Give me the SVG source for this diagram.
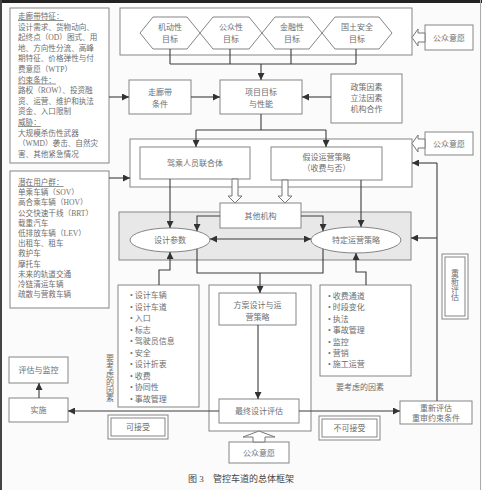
<svg xmlns="http://www.w3.org/2000/svg" width="482" height="490" viewBox="0 0 482 490">
<defs>
<style>
.bg{fill:#fbfbfb}
.b{fill:#fff;stroke:#858585;stroke-width:1}
.g{fill:#e8e8e8;stroke:#858585;stroke-width:1}
.t{font-family:"Liberation Serif","Noto Sans CJK SC",serif;font-size:8px;fill:#6e6e6e}
.s{font-size:7.6px}
.c{text-anchor:middle}
.u{text-decoration:underline}
.ln{fill:none;stroke:#3c3c3c;stroke-width:1.1}
.ho{fill:#fff;stroke:#777;stroke-width:1}
.cap{font-family:"Liberation Serif","Noto Sans CJK SC",serif;font-size:9px;fill:#444}
</style>
<marker id="a" viewBox="0 0 10 10" refX="10" refY="5" markerWidth="7" markerHeight="7" markerUnits="userSpaceOnUse" orient="auto-start-reverse">
<path d="M0,0 L10,5 L0,10 z" fill="#333"/>
</marker>
</defs>
<rect class="bg" x="0" y="0" width="482" height="490"/>
<g id="frame">
<line x1="0" y1="1.5" x2="482" y2="1.5" stroke="#222" stroke-width="3"/>
<line x1="1" y1="0" x2="1" y2="490" stroke="#444" stroke-width="2"/>
<line x1="480.5" y1="0" x2="480.5" y2="490" stroke="#aaa" stroke-width="1"/>
</g>

<g id="corridor-features">
<rect class="b" x="10" y="8" width="99" height="155"/>
<text class="t s" x="18" y="19"><tspan class="u">走廊带特征：</tspan></text>
<text class="t s" x="18" y="29.6">设计需求、货物动向、</text>
<text class="t s" x="18" y="40.2">起终点（OD）图式、用</text>
<text class="t s" x="18" y="50.8">地、方向性分流、高峰</text>
<text class="t s" x="18" y="61.4">期特征、价格弹性与付</text>
<text class="t s" x="18" y="72">费意愿（WTP）</text>
<text class="t s" x="18" y="82.6"><tspan class="u">约束条件：</tspan></text>
<text class="t s" x="18" y="93.2">路权（ROW）、投资融</text>
<text class="t s" x="18" y="103.8">资、运营、维护和执法</text>
<text class="t s" x="18" y="114.4">资金、入口限制</text>
<text class="t s" x="18" y="125"><tspan class="u">威胁：</tspan></text>
<text class="t s" x="18" y="135.6">大规模杀伤性武器</text>
<text class="t s" x="18" y="146.2">（WMD）袭击、自然灾</text>
<text class="t s" x="18" y="156.8">害、其他紧急情况</text>
</g>

<g id="potential-users">
<rect class="b" x="10" y="171" width="99" height="137"/>
<text class="t s" x="18" y="185"><tspan class="u">潜在用户群：</tspan></text>
<text class="t s" x="18" y="195.2">单乘车辆（SOV）</text>
<text class="t s" x="18" y="205.4">高合乘车辆（HOV）</text>
<text class="t s" x="18" y="215.6">公交快速干线（BRT）</text>
<text class="t s" x="18" y="225.8">载重汽车</text>
<text class="t s" x="18" y="236">低排放车辆（LEV）</text>
<text class="t s" x="18" y="246.2">出租车、租车</text>
<text class="t s" x="18" y="256.4">救护车</text>
<text class="t s" x="18" y="266.6">摩托车</text>
<text class="t s" x="18" y="276.8">未来的轨道交通</text>
<text class="t s" x="18" y="287">冷链清运车辆</text>
<text class="t s" x="18" y="297.2">疏散与营救车辆</text>
</g>

<g id="goals">
<rect class="b" x="120" y="8" width="292" height="47"/>
<polygon class="b" points="140,33 153,17 187,17 200,33 187,49 153,49"/>
<polygon class="b" points="200,33 213,17 249,17 262,33 249,49 213,49"/>
<polygon class="b" points="262,33 275,17 309,17 322,33 309,49 275,49"/>
<polygon class="b" points="322,33 335,17 379,17 392,33 379,49 335,49"/>
<text class="t c" x="170" y="30">机动性</text><text class="t c" x="170" y="42">目标</text>
<text class="t c" x="231" y="30">公众性</text><text class="t c" x="231" y="42">目标</text>
<text class="t c" x="292" y="30">金融性</text><text class="t c" x="292" y="42">目标</text>
<text class="t c" x="357" y="30">国土安全</text><text class="t c" x="357" y="42">目标</text>
</g>

<g id="public-opinion-1">
<rect class="b" x="425" y="25" width="48" height="25"/>
<text class="t c" x="449" y="40.5">公众意愿</text>
<polygon class="ho" points="425,33 418,33 418,29 412,37.5 418,46 418,42 425,42"/>
</g>

<g id="corridor-conditions">
<rect class="b" x="129" y="80" width="62" height="34"/>
<text class="t c" x="160" y="95">走廊带</text>
<text class="t c" x="160" y="107">条件</text>
</g>

<g id="project-goals">
<rect class="b" x="220" y="80" width="82" height="34"/>
<text class="t c" x="261" y="95">项目目标</text>
<text class="t c" x="261" y="107">与性能</text>
</g>

<g id="policy">
<rect class="b" x="331" y="74" width="71" height="49"/>
<text class="t c" x="366.5" y="90">政策因素</text>
<text class="t c" x="366.5" y="101">立法因素</text>
<text class="t c" x="366.5" y="112">机构合作</text>
</g>

<g id="middle-frame">
<rect class="b" x="130" y="139" width="282" height="48"/>
</g>

<g id="driver-consortium">
<rect class="b" x="140" y="147" width="110" height="32"/>
<text class="t c" x="195" y="166">驾乘人员联合体</text>
</g>

<g id="assumed-operation">
<rect class="b" x="271" y="147" width="111" height="33"/>
<text class="t c" x="326.5" y="160">假设运营策略</text>
<text class="t c" x="326.5" y="171">（收费与否）</text>
</g>

<g id="public-opinion-2">
<rect class="b" x="425" y="132" width="48" height="23"/>
<text class="t c" x="449" y="147">公众意愿</text>
<polygon class="ho" points="425,139 418,139 418,135 412,143.5 418,152 418,148 425,148"/>
</g>

<g id="gray-band">
<rect class="g" x="119" y="212" width="292" height="48"/>
</g>

<g id="hollow-arrows">
<polygon class="ho" points="232,179 232,196 228,196 235,203 242,196 238,196 238,179"/>
<polygon class="ho" points="282,180 282,196 278,196 285,203 292,196 288,196 288,180"/>
</g>

<g id="other-agencies">
<rect class="b" x="220" y="203" width="81" height="25"/>
<text class="t c" x="260.5" y="219">其他机构</text>
</g>

<g id="design-params">
<ellipse class="b" cx="170" cy="240" rx="40" ry="12"/>
<text class="t c" x="170" y="243">设计参数</text>
</g>

<g id="specific-operation">
<ellipse class="b" cx="356" cy="240" rx="45" ry="13"/>
<text class="t c" x="356" y="243">特定运营策略</text>
</g>

<g id="reassess-vertical">
<rect class="b" x="442" y="254" width="26" height="65"/>
<rect fill="none" stroke="#858585" x="445" y="257" width="20" height="59"/>
<text class="t c" x="455" y="276" font-size="7.5">重<tspan x="455" dy="8">新</tspan><tspan x="455" dy="8">评</tspan><tspan x="455" dy="8">估</tspan></text>
</g>

<g id="design-factors">
<rect class="b" x="118" y="285" width="81" height="122"/>
<text class="t" x="130" y="298">• 设计车辆</text>
<text class="t" x="130" y="309.5">• 设计车道</text>
<text class="t" x="130" y="321">• 入口</text>
<text class="t" x="130" y="332.5">• 标志</text>
<text class="t" x="130" y="344">• 驾驶员信息</text>
<text class="t" x="130" y="355.5">• 安全</text>
<text class="t" x="130" y="367">• 设计折衷</text>
<text class="t" x="130" y="378.5">• 收费</text>
<text class="t" x="130" y="390">• 协同性</text>
<text class="t" x="130" y="401.5">• 事故管理</text>
<text class="t c" x="110" y="361" font-size="7.5">要<tspan x="110" dy="8">考</tspan><tspan x="110" dy="8">虑</tspan><tspan x="110" dy="8">的</tspan><tspan x="110" dy="8">因</tspan><tspan x="110" dy="8">素</tspan></text>
</g>

<g id="eval-frame">
<rect class="b" x="209" y="285" width="102" height="146"/>
</g>

<g id="scheme-design">
<rect class="b" x="219" y="293" width="77" height="32"/>
<text class="t c" x="257.5" y="308">方案设计与运</text>
<text class="t c" x="257.5" y="320">营策略</text>
</g>

<g id="final-eval">
<rect class="b" x="219" y="399" width="80" height="24"/>
<text class="t c" x="259" y="414">最终设计评估</text>
</g>

<g id="public-opinion-3">
<rect class="b" x="229" y="442" width="60" height="21"/>
<text class="t c" x="259" y="455.5">公众意愿</text>
<polygon class="ho" points="253,442 253,437 243,437 259,431 275,437 265,437 265,442"/>
</g>

<g id="operation-factors">
<rect class="b" x="320" y="285" width="91" height="91"/>
<text class="t" x="328" y="299">• 收费通道</text>
<text class="t" x="328" y="310.4">• 时段变化</text>
<text class="t" x="328" y="321.8">• 执法</text>
<text class="t" x="328" y="333.2">• 事故管理</text>
<text class="t" x="328" y="344.6">• 监控</text>
<text class="t" x="328" y="356">• 营销</text>
<text class="t" x="328" y="367.4">• 施工运营</text>
<text class="t c" x="360" y="390">要考虑的因素</text>
</g>

<g id="acceptable">
<rect class="b" x="108" y="415" width="60" height="24"/>
<rect fill="none" stroke="#858585" x="111" y="418" width="54" height="18"/>
<text class="t c" x="138" y="430">可接受</text>
</g>

<g id="unacceptable">
<rect class="b" x="319" y="416" width="61" height="24"/>
<rect fill="none" stroke="#858585" x="322" y="419" width="55" height="18"/>
<text class="t c" x="349.5" y="431">不可接受</text>
</g>

<g id="eval-monitor">
<rect class="b" x="9" y="357" width="59" height="26"/>
<text class="t c" x="38.5" y="373">评估与监控</text>
</g>

<g id="implement">
<rect class="b" x="9" y="398" width="59" height="24"/>
<text class="t c" x="38.5" y="413">实施</text>
</g>

<g id="reassess-box">
<rect class="b" x="400" y="401" width="72" height="23"/>
<text class="t c" x="436" y="410.5" font-size="7.5">重新评估</text>
<text class="t c" x="436" y="421" font-size="7.5">重审约束条件</text>
</g>

<g id="connectors">
<path class="ln" d="M170,49 V64 M230,49 V64 M291,49 V64 M356,49 V64 M170,64 H356"/>
<path class="ln" d="M261,64 V80" marker-end="url(#a)"/>
<path class="ln" d="M109,97 H129" marker-end="url(#a)"/>
<path class="ln" d="M191,97 H220" marker-end="url(#a)"/>
<path class="ln" d="M331,97 H302" marker-end="url(#a)"/>
<path class="ln" d="M261,114 V130 M196,130 H326"/>
<path class="ln" d="M196,130 V147" marker-end="url(#a)"/>
<path class="ln" d="M326,130 V147" marker-end="url(#a)"/>
<path class="ln" d="M109,178 H130" marker-end="url(#a)"/>
<path class="ln" d="M170,179 V228" marker-end="url(#a)"/>
<path class="ln" d="M220,216 H197 V231" marker-end="url(#a)"/>
<path class="ln" d="M301,216 H323 V231" marker-end="url(#a)"/>
<path class="ln" d="M361,180 V227" marker-end="url(#a)"/>
<path class="ln" d="M210,239 H311" marker-start="url(#a)" marker-end="url(#a)"/>
<path class="ln" d="M437,401 V163"/>
<path class="ln" d="M437,163 H412" marker-end="url(#a)"/>
<path class="ln" d="M437,238 H411" marker-end="url(#a)"/>
<path class="ln" d="M197,249 V273 H323 V249"/>
<path class="ln" d="M260,273 V293" marker-end="url(#a)"/>
<path class="ln" d="M159,285 V270 H170 V252" marker-end="url(#a)"/>
<path class="ln" d="M366,285 V272 H356 V253" marker-end="url(#a)"/>
<path class="ln" d="M258,325 V399" marker-end="url(#a)"/>
<path class="ln" d="M219,411 H68" marker-end="url(#a)"/>
<path class="ln" d="M299,411 H400" marker-end="url(#a)"/>
<path class="ln" d="M39,398 V383" marker-end="url(#a)"/>
</g>

<g id="caption">
<text class="cap" x="188" y="482">图 3</text>
<text class="cap" x="213" y="482">管控车道的总体框架</text>
</g>
</svg>
